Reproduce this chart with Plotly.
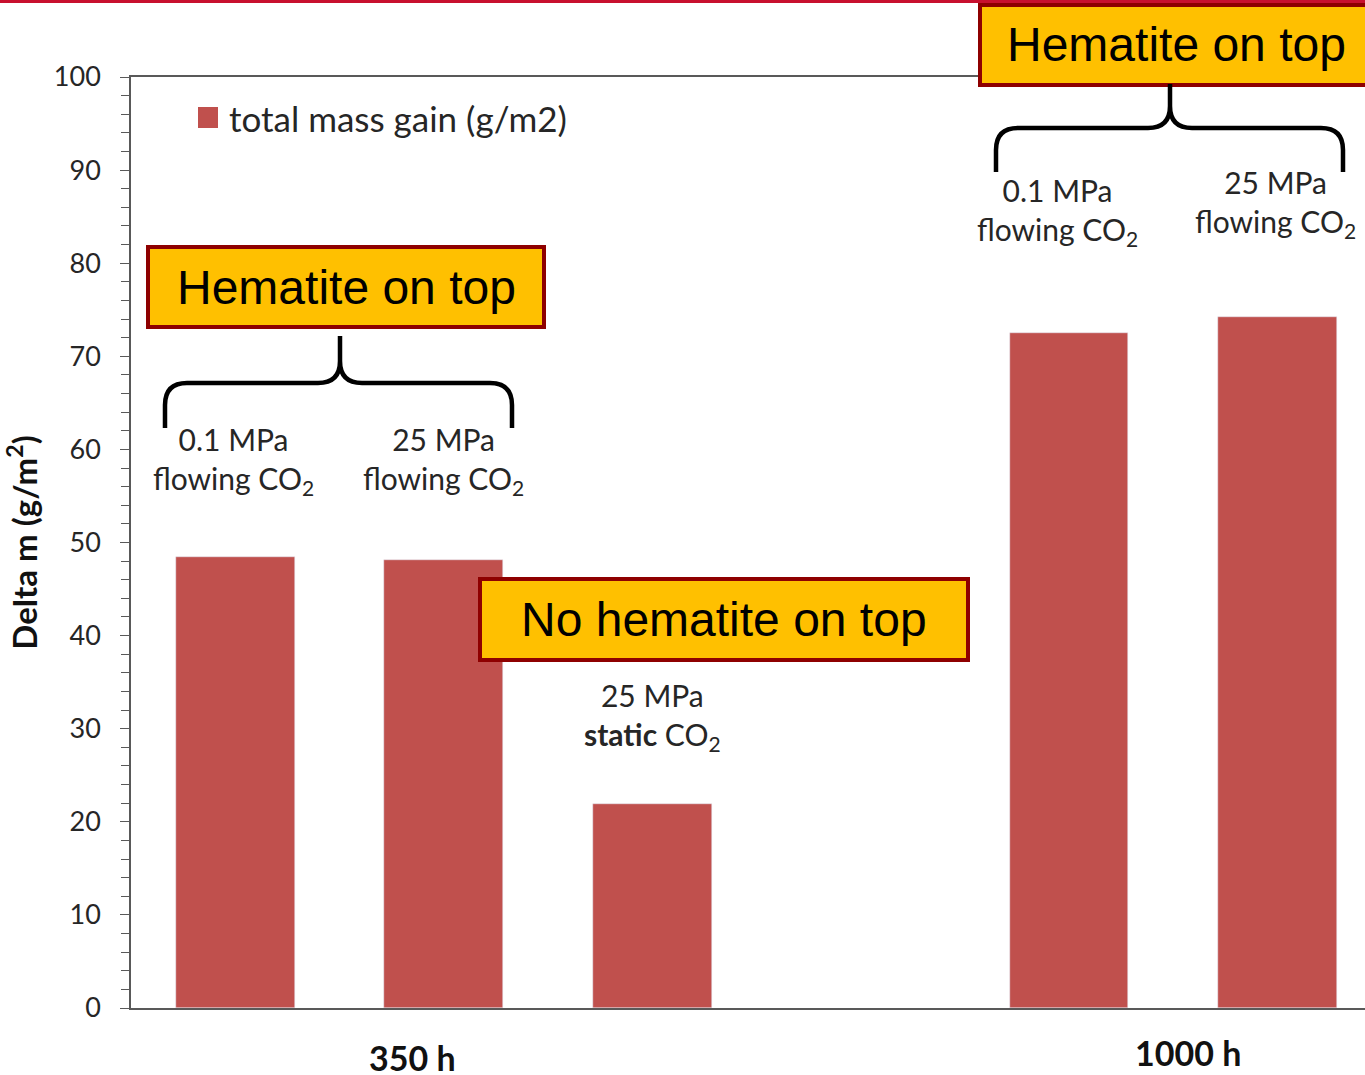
import plotly.graph_objects as go

# bar data: slot position on the x axis (slot 3 left empty), value in g/m2
slots = [0, 1, 2, 4, 5]
mass_gain = [48.4, 48.1, 21.9, 72.5, 74.2]
conditions = ["0.1 MPa<br>flowing CO<sub>2</sub>",
              "25 MPa<br>flowing CO<sub>2</sub>",
              "25 MPa<br><b>static</b> CO<sub>2</sub>",
              "0.1 MPa<br>flowing CO<sub>2</sub>",
              "25 MPa<br>flowing CO<sub>2</sub>"]
durations = ["350 h", "1000 h"]
duration_pos = [0.85, 4.57]
y_ticks = [0, 10, 20, 30, 40, 50, 60, 70, 80, 90, 100]
series_name = "total mass gain (g/m2)"

BAR = "#C0504D"
BOX_FILL = "#FFC000"
BOX_LINE = "#8E0000"
TXT = "#262626"
CAL = "Lato, 'Open Sans', sans-serif"
ARI = "'Liberation Sans', Arial, sans-serif"

# plot box in page pixels, used to place the decorations
L, T, R, B = 131, 77, 1365, 1008


def px(x):
    return (x - L) / (R - L)


def py(y):
    return (B - y) / (B - T)


def brace(x0, x1, xm, y_end, y_bar, y_top, r=22):
    pts = [
        ("M", (x0, y_end)), ("L", (x0, y_bar + r)), ("Q", (x0, y_bar), (x0 + r, y_bar)),
        ("L", (xm - r, y_bar)), ("Q", (xm, y_bar), (xm, y_bar - r)), ("L", (xm, y_top)),
        ("M", (xm, y_bar - r)), ("Q", (xm, y_bar), (xm + r, y_bar)),
        ("L", (x1 - r, y_bar)), ("Q", (x1, y_bar), (x1, y_bar + r)), ("L", (x1, y_end)),
    ]
    out = []
    for p in pts:
        out.append(p[0] + " " + " ".join(f"{px(a):.5f},{py(b):.5f}" for a, b in p[1:]))
    return " ".join(out)


fig = go.Figure()
fig.add_trace(go.Bar(
    x=slots, y=mass_gain, width=0.57, marker_color=BAR,
    name=series_name, showlegend=False,
))

shapes = []
annotations = []

# red rule at the very top of the page
shapes.append(dict(type="rect", xref="paper", yref="paper", x0=px(-5), x1=px(1370),
                   y0=py(3), y1=py(-5), fillcolor="#C8102E", line_width=0, layer="above"))

# legend drawn by hand so the swatch can be as big as in the original
shapes.append(dict(type="rect", xref="paper", yref="paper", x0=px(198), x1=px(218),
                   y0=py(128), y1=py(107), fillcolor=BAR, line_width=0))
annotations.append(dict(text=series_name, xref="paper", yref="paper", x=px(227), y=py(118),
                        showarrow=False, xanchor="left", yanchor="middle",
                        font=dict(family=CAL, size=35, color=TXT)))

# orange label boxes
boxes = [
    ("Hematite on top", 148, 544, 247, 327),
    ("Hematite on top", 980, 1375, 5, 85),
    ("No hematite on top", 480, 968, 579, 660),
]
for text, x0, x1, y0, y1 in boxes:
    shapes.append(dict(type="rect", xref="paper", yref="paper", x0=px(x0), x1=px(x1),
                       y0=py(y1), y1=py(y0), fillcolor=BOX_FILL,
                       line=dict(color=BOX_LINE, width=4), layer="above"))
    annotations.append(dict(text=text, xref="paper", yref="paper", x=px((x0 + min(x1, 1372)) / 2),
                            y=py((y0 + y1) / 2), showarrow=False,
                            font=dict(family=ARI, size=48, color="#000000"),
                            xanchor="center", yanchor="middle"))

# braces
shapes.append(dict(type="path", xref="paper", yref="paper",
                   path=brace(165, 512, 340, 428, 383, 336),
                   line=dict(color="#000000", width=4.5), layer="above"))
shapes.append(dict(type="path", xref="paper", yref="paper",
                   path=brace(996, 1343, 1170, 172, 128, 84),
                   line=dict(color="#000000", width=4.5), layer="above"))

# condition labels above the bars
label_y = [461, 461, 716, 211, 203]
label_shift = [-2, 0, 0, -12, -2]
for s, txt, ly, sh in zip(slots, conditions, label_y, label_shift):
    annotations.append(dict(text=txt, x=s, xref="x", yref="paper", y=py(ly), xshift=sh,
                            showarrow=False, align="center",
                            font=dict(family=CAL, size=30, color=TXT),
                            xanchor="center", yanchor="middle"))

# time labels below the axis
for d, pos, ly in zip(durations, duration_pos, [1057, 1052]):
    annotations.append(dict(text=f"<b>{d}</b>", x=pos, xref="x", yref="paper", y=py(ly),
                            showarrow=False, font=dict(family=CAL, size=34, color="#111111"),
                            xanchor="center", yanchor="middle"))

fig.update_layout(
    width=1365, height=1075,
    margin=dict(l=L, r=0, t=T, b=1075 - B),
    paper_bgcolor="white", plot_bgcolor="white",
    bargap=0,
    showlegend=False,
    font=dict(family=CAL, color=TXT),
    shapes=shapes,
    annotations=annotations,
    xaxis=dict(range=[-0.5, 5.42], showticklabels=False, ticks="", showgrid=False,
               zeroline=False, showline=True, linecolor="#595959", linewidth=1.5, mirror=True),
    yaxis=dict(range=[0, 100], tickvals=y_ticks, ticks="outside", ticklen=9,
               tickcolor="#595959", tickwidth=1.2, showgrid=False, zeroline=False,
               showline=True, linecolor="#595959", linewidth=1.5,
               tickfont=dict(family=CAL, size=27, color=TXT), ticklabelstandoff=14,
               minor=dict(dtick=2, ticks="outside", ticklen=8, tickcolor="#595959", tickwidth=1.2),
               title=dict(text="<b>Delta m (g/m<sup>2</sup>)</b>", standoff=9,
                          font=dict(family=CAL, size=33, color="#111111"))),
)

fig.write_html("out.html", config={"displayModeBar": False},
               post_script="document.body.style.margin='0px';")
